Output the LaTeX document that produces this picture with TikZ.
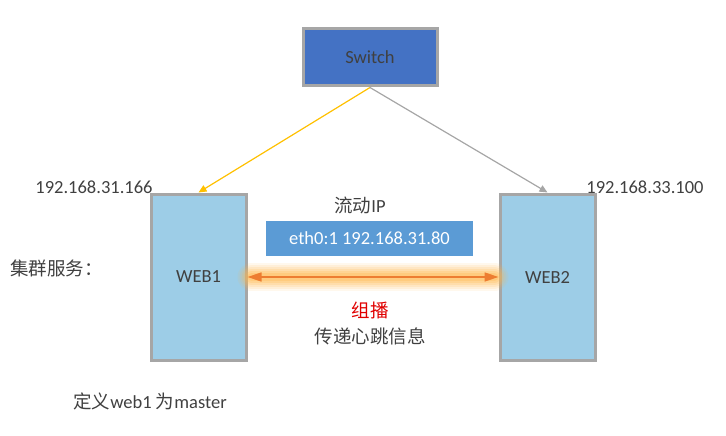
\documentclass[tikz,border=0pt]{standalone}
\usepackage{fontspec}
\setmainfont{Carlito}
\newfontfamily\cjk{Noto Sans CJK SC}
\usetikzlibrary{arrows.meta}
\definecolor{txt}{HTML}{404040}
\definecolor{swblue}{HTML}{4472C4}
\definecolor{webblue}{HTML}{9DCDE7}
\definecolor{ipblue}{HTML}{5B9BD5}
\definecolor{bord}{HTML}{A6A6A6}
\definecolor{orng}{HTML}{ED7D31}
\definecolor{yel}{HTML}{FFC000}
\definecolor{glow}{HTML}{FFB84D}
\tikzset{
  base/.style={font=\fontsize{18.5}{20}\selectfont, text=txt, inner sep=0pt},
  boxnode/.style={base, draw=bord, line width=3pt},
  lbl/.style={base},
}
\begin{document}
\begin{tikzpicture}[x=1pt,y=-1pt]
\useasboundingbox (0,0) rectangle (726,436);
\node[boxnode, fill=swblue, minimum width=134pt, minimum height=57pt] (sw) at (370,57.5) {Switch};
\node[boxnode, fill=webblue, minimum width=95pt, minimum height=166pt] (web1) at (198.5,277) {WEB1};
\node[boxnode, fill=webblue, minimum width=95pt, minimum height=166pt] (web2) at (547.5,277) {WEB2};
\node[base, fill=ipblue, text=white, minimum width=207pt, minimum height=35pt] (ip) at (369.5,238.5) {eth0:1 192.168.31.80};
\node[lbl] (float) at (360,205) {{\cjk 流动}IP};
\node[lbl] (ip1) at (94,187) {192.168.31.166};
\node[lbl] (ip2) at (645,187) {192.168.33.100};
\node[lbl, anchor=west] (cluster) at (10,268) {\cjk 集群服务：};
\node[lbl, text=red!88!black] (mc) at (370,310) {\cjk 组播};
\node[lbl] (hb) at (370,336) {\cjk 传递心跳信息};
\node[lbl] (master) at (150,401) {{\cjk 定义}web1 {\cjk 为}master};
% connectors
\draw[yel, line width=1.2pt, -{Triangle[length=8pt,width=7pt]}] (sw.south) -- (web1.north);
\draw[bord, line width=1.2pt, -{Triangle[length=8pt,width=7pt]}] (sw.south) -- (web2.north);
% glow
\foreach \w/\o in {28/0.10,24/0.13,20/0.16,16/0.2,12/0.25,8/0.3}{
  \draw[glow, line width=\w pt, line cap=round, opacity=\o] ([xshift=4pt]web1.east) -- ([xshift=-4pt]web2.west);
}
\draw[orng, line width=1.5pt, {Triangle[length=14pt,width=9pt]}-{Triangle[length=14pt,width=9pt]}] (web1.east) -- (web2.west);
\end{tikzpicture}
\end{document}
